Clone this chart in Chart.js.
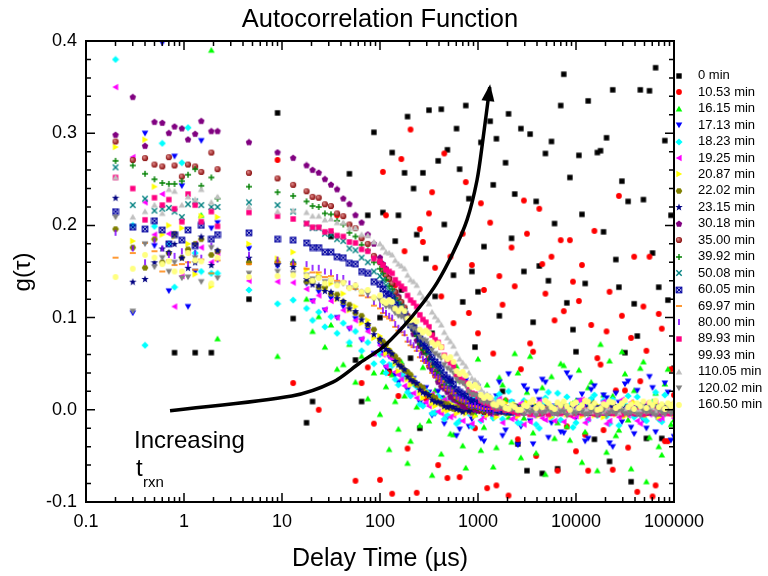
<!DOCTYPE html>
<html>
<head>
<meta charset="utf-8">
<title>Autocorrelation Function</title>
<script src="https://cdn.jsdelivr.net/npm/chart.js@4.4.1/dist/chart.umd.min.js"></script>
<style>
  html, body { margin: 0; padding: 0; background: #fff; }
  canvas { display: block; }
</style>
</head>
<body>
<canvas id="acf-chart" width="768" height="576"></canvas>
<script>
const FONT = '"Liberation Sans", Arial, Helvetica, sans-serif';

// correlator delay times in microseconds, shared by every run
const delayTimes = [
  0.2, 0.3, 0.4, 0.5, 0.6, 0.7, 0.8, 0.95, 1.1, 1.3, 1.5, 1.9, 2.2, 4.6, 9, 13,
  17.8, 20.5, 23.7, 27.4, 31.6, 36.5, 42.2, 48.7, 56.2, 64.9, 75, 86.6,
  100, 107, 115, 124, 133, 143, 154, 165, 178, 191, 205, 220, 237, 255, 274, 294,
  316, 340, 365, 392, 422, 453, 487, 523, 562, 604, 649, 698, 750, 806, 866, 931,
  1000, 1070, 1150, 1240, 1330, 1430, 1540, 1650, 1780, 1910, 2050, 2200, 2370, 2550, 2740, 2940,
  3160, 3400, 3650, 3920, 4220, 4530, 4870, 5230, 5620, 6040, 6490, 6980, 7500, 8060, 8660, 9310,
  10000, 10700, 11500, 12400, 13300, 14300, 15400, 16500, 17800, 19100, 20500, 22000, 23700, 25500, 27400, 29400,
  31600, 34000, 36500, 39200, 42200, 45300, 48700, 52300, 56200, 60400, 64900, 69800, 75000, 80600, 86600, 93100,
  100000
];

const runLabels = ['0 min', '10.53 min', '16.15 min', '17.13 min', '18.23 min', '19.25 min', '20.87 min',
  '22.02 min', '23.15 min', '30.18 min', '35.00 min', '39.92 min', '50.08 min', '60.05 min', '69.97 min',
  '80.00 min', '89.93 min', '99.93 min', '110.05 min', '120.02 min', '160.50 min'];

const runColors = ['#000000', '#ff0000', '#00ff00', '#0000ff', '#00ffff', '#ff00ff', '#ffff00',
  '#808000', '#000080', '#800080', '#800000', '#008000', '#008080', '#0000a0', '#ff8000',
  '#8000ff', '#ff0080', '#ffffff', '#c0c0c0', '#808080', '#ffff80'];

const runShapes = ['square', 'circle', 'triUp', 'triDown', 'diamond', 'triLeft', 'triRight',
  'hexagon', 'star', 'pentagon', 'sphere', 'plus', 'cross', 'boxX', 'dash',
  'bar', 'square', 'circle', 'triUp', 'triDown', 'circle'];

// g(tau) for each reaction time
const g0min = [
  null, null, null, null, null, null, 0.062, null, null, 0.062, null, 0.062, null, 0.12, 0.322, 0.099,
  -0.014, 0.009, null, null, 0.188, null, null, 0.256, 0.054, 0.009, 0.211, 0.301,
  0.100, 0.214, null, 0.042, 0.279, 0.183, 0.211, 0.130, 0.257, 0.318, 0.056, 0.240, 0.190, -0.020, 0.257, 0.164,
  0.325, 0.083, 0.123, 0.270, 0.326, 0.201, 0.282, 0.031, 0.146, 0.305, 0.261, 0.117, 0.330, 0.229, 0.150, 0.068,
  0.128, 0.290, 0.177, 0.007, 0.313, 0.244, 0.294, 0.102, 0.020, 0.268, 0.321, 0.186, 0.234, -0.037, 0.305, 0.150,
  -0.066, 0.299, 0.095, 0.226, 0.156, -0.069, 0.278, 0.140, 0.291, 0.202, -0.064, 0.330, 0.364, 0.116, 0.252, 0.087,
  0.063, 0.276, 0.212, 0.137, 0.335, 0.010, -0.032, 0.279, 0.281, 0.193, 0.295, -0.056, 0.347, 0.163, 0.133, 0.248,
  0.062, 0.226, -0.078, 0.115, 0.080, 0.347, 0.228, -0.031, 0.346, 0.170, 0.371, 0.133, -0.031, 0.292, 0.119, 0.211,
  0.045
];
const g1053 = [
  null, null, null, null, null, null, null, null, null, null, null, null, null, null, 0.271, 0.029,
  null, null, 0.000, null, null, 0.211, null, null, -0.077, 0.029, 0.046, -0.015,
  -0.076, 0.258, 0.211, 0.040, -0.091, 0.135, 0.015, 0.272, 0.172, -0.042, 0.304, 0.087, -0.090, 0.196, 0.182, 0.012,
  0.213, 0.236, 0.154, -0.060, 0.123, 0.278, -0.074, 0.166, 0.094, 0.038, -0.073, 0.191, 0.247, 0.105, 0.157, -0.020,
  0.083, 0.224, 0.130, -0.085, 0.203, 0.061, -0.082, 0.145, 0.114, 0.010, -0.093, 0.176, 0.134, -0.032, 0.044, 0.227,
  0.191, 0.072, 0.063, -0.050, 0.218, 0.158, 0.126, 0.004, 0.166, 0.097, -0.066, 0.184, 0.107, -0.018, 0.184, 0.139,
  -0.045, 0.118, 0.157, -0.027, -0.066, 0.092, 0.194, 0.056, 0.049, -0.022, 0.085, 0.128, -0.065, 0.021, 0.232, 0.102,
  0.021, -0.041, 0.078, 0.166, -0.089, 0.031, 0.112, 0.064, 0.166, -0.094, -0.082, 0.104, 0.088, -0.034, -0.034, 0.044,
  0.016
];
const g1615 = [
  null, null, null, null, null, null, null, null, null, null, 0.211, 0.390, 0.077, null, 0.058, 0.161,
  0.120, 0.085, 0.101, 0.068, 0.092, 0.044, 0.049, 0.071, 0.030, 0.058, 0.012, 0.040,
  -0.005, 0.041, 0.025, -0.043, 0.038, 0.009, -0.021, 0.052, 0.015, -0.058, -0.034, 0.030, 0.003, -0.017, 0.046, 0.064,
  -0.012, -0.071, 0.021, 0.034, -0.048, 0.013, 0.008, -0.026, -0.027, 0.047, 0.032, -0.039, -0.063, 0.019, 0.012, -0.005,
  0.055, -0.044, -0.019, 0.027, 0.004, -0.062, -0.041, 0.035, 0.027, 0.011, -0.008, -0.035, 0.061, 0.040, -0.052, -0.009,
  0.019, 0.058, -0.025, -0.047, 0.006, 0.024, -0.070, 0.002, 0.036, -0.031, -0.014, 0.050, 0.048, -0.018, -0.033, 0.007,
  0.010, 0.043, -0.057, -0.024, 0.024, 0.030, -0.003, -0.066, 0.071, 0.016, -0.046, 0.053, 0.015, -0.028, -0.022, 0.063,
  0.039, -0.011, -0.064, 0.021, 0.003, 0.045, 0.052, -0.078, -0.030, 0.009, 0.018, -0.040, -0.049, 0.028, 0.044, -0.016,
  -0.011
];
const g1713 = [
  null, 0.105, 0.300, 0.178, 0.398, 0.129, 0.275, 0.243, 0.112, 0.150, 0.292, 0.197, 0.203, 0.175, 0.156, 0.158,
  0.137, 0.118, 0.128, 0.108, 0.121, 0.100, 0.112, 0.088, 0.099, 0.076, 0.087, 0.061,
  0.071, 0.062, 0.046, 0.058, 0.056, 0.038, 0.030, 0.047, 0.041, 0.022, 0.016, 0.034, 0.028, 0.008, 0.005, 0.024,
  0.019, -0.006, -0.004, 0.020, 0.013, -0.015, -0.008, 0.024, 0.018, -0.028, -0.021, 0.012, 0.032, -0.018, -0.010, 0.027,
  0.025, -0.031, -0.034, 0.014, 0.006, -0.009, 0.015, 0.030, -0.028, -0.022, 0.039, 0.008, -0.005, -0.038, -0.018, 0.026,
  0.022, -0.012, -0.037, 0.020, 0.011, 0.033, 0.030, -0.030, -0.014, 0.004, 0.003, -0.024, -0.025, 0.040, 0.035, -0.006,
  -0.008, 0.010, 0.017, -0.034, -0.031, 0.022, 0.026, 0.000, -0.002, 0.016, 0.013, -0.036, -0.040, 0.018, 0.008, -0.013,
  0.028, 0.031, -0.019, -0.026, 0.021, 0.005, -0.011, -0.020, 0.036, 0.024, -0.024, -0.010, 0.004, 0.029, 0.019, -0.033,
  -0.029
];
const g1823 = [
  0.380, 0.200, 0.070, 0.199, 0.289, 0.180, 0.133, 0.268, 0.306, 0.170, 0.150, 0.148, 0.148, 0.130, 0.115, 0.119,
  0.110, 0.097, 0.106, 0.090, 0.101, 0.083, 0.094, 0.073, 0.085, 0.064, 0.073, 0.050,
  0.060, 0.052, 0.040, 0.049, 0.048, 0.033, 0.027, 0.038, 0.036, 0.019, 0.015, 0.028, 0.025, 0.006, 0.004, 0.020,
  0.017, -0.004, -0.003, 0.015, 0.011, -0.010, -0.006, 0.012, 0.010, -0.015, -0.012, 0.008, 0.004, -0.004, -0.018, 0.013,
  0.015, -0.012, -0.006, 0.005, 0.002, -0.009, 0.012, 0.017, -0.010, -0.004, 0.020, 0.009, -0.004, -0.014, -0.015, 0.010,
  0.007, -0.002, 0.000, -0.016, -0.020, 0.006, 0.013, 0.019, -0.008, 0.003, 0.018, -0.011, -0.002, 0.014, 0.005, -0.019,
  -0.014, 0.008, 0.009, -0.003, -0.011, 0.012, 0.016, -0.006, 0.003, 0.010, -0.007, -0.015, 0.011, 0.001, -0.017, -0.006,
  0.006, 0.015, -0.003, -0.008, 0.014, 0.004, -0.009, -0.012, 0.001, 0.007, 0.019, -0.010, -0.013, 0.016, 0.004, -0.001,
  -0.006
];
const g1925 = [
  0.350, 0.274, 0.225, 0.190, 0.234, 0.191, 0.112, 0.145, 0.171, 0.180, 0.176, 0.160, 0.170, 0.140, 0.139, 0.138,
  0.131, 0.118, 0.124, 0.109, 0.118, 0.100, 0.108, 0.089, 0.097, 0.077, 0.085, 0.061,
  0.070, 0.060, 0.047, 0.058, 0.055, 0.041, 0.038, 0.033, 0.026, 0.037, 0.031, 0.018, 0.013, 0.024, 0.021, 0.008,
  0.004, 0.017, 0.013, -0.002, -0.004, 0.011, 0.009, -0.008, -0.006, 0.008, 0.006, -0.012, 0.006, -0.003, -0.015, 0.010,
  0.003, -0.011, -0.008, 0.007, 0.010, -0.006, -0.004, 0.012, -0.014, -0.001, 0.002, -0.010, -0.009, 0.004, 0.007, -0.016,
  0.000, -0.013, -0.006, 0.005, 0.009, -0.009, -0.011, 0.001, -0.002, -0.012, 0.005, 0.006, -0.013, -0.004, 0.001, -0.008,
  -0.007, 0.010, 0.011, -0.014, -0.010, 0.002, -0.003, -0.005, 0.004, 0.009, -0.015, -0.012, 0.006, 0.000, -0.008, 0.011,
  -0.001, -0.006, 0.008, 0.003, -0.012, -0.015, 0.002, 0.007, -0.005, 0.004, 0.007, -0.010, -0.009, 0.001, -0.004, 0.006,
  -0.009
];
const g2087 = [
  0.285, 0.183, 0.293, 0.242, 0.190, 0.200, 0.188, 0.197, 0.180, 0.147, 0.210, 0.134, 0.209, 0.180, 0.164, 0.171,
  0.152, 0.140, 0.146, 0.131, 0.137, 0.120, 0.126, 0.108, 0.112, 0.094, 0.097, 0.078,
  0.080, 0.073, 0.061, 0.066, 0.062, 0.050, 0.042, 0.049, 0.044, 0.033, 0.027, 0.034, 0.029, 0.018, 0.013, 0.020,
  0.016, 0.007, 0.004, 0.011, 0.009, 0.000, -0.001, 0.007, 0.005, -0.004, -0.002, 0.006, -0.004, 0.002, 0.002, -0.007,
  0.008, -0.002, 0.003, -0.006, 0.005, 0.000, -0.008, 0.004, -0.003, 0.007, -0.005, 0.001, 0.006, -0.007, 0.002, -0.001,
  0.008, -0.004, 0.000, 0.005, -0.006, 0.003, -0.002, 0.007, -0.008, 0.001, 0.004, -0.003, 0.006, -0.005, 0.002, 0.006,
  -0.004, 0.002, -0.007, 0.008, -0.002, 0.003, -0.006, 0.005, 0.000, -0.008, 0.004, -0.003, 0.007, -0.005, 0.001, 0.006,
  -0.007, 0.002, -0.001, 0.008, -0.004, 0.000, 0.005, -0.006, 0.003, -0.002, 0.007, -0.008, 0.001, 0.004, -0.003, 0.006,
  -0.005
];
const g2202 = [
  0.196, 0.176, 0.154, 0.185, 0.160, 0.170, 0.191, 0.165, 0.174, 0.180, 0.185, 0.168, 0.172, 0.160, 0.160, 0.158,
  0.139, 0.139, 0.133, 0.133, 0.126, 0.125, 0.117, 0.114, 0.105, 0.102, 0.092, 0.087,
  0.076, 0.074, 0.071, 0.064, 0.060, 0.058, 0.054, 0.047, 0.043, 0.041, 0.038, 0.031, 0.027, 0.026, 0.024, 0.018,
  0.015, 0.015, 0.013, 0.008, 0.006, 0.007, 0.006, 0.002, 0.001, 0.003, 0.002, -0.001, 0.000, 0.001, -0.003, 0.000,
  0.002, -0.001, 0.000, 0.003, -0.002, 0.001, -0.001, 0.000, 0.002, -0.003, 0.001, 0.000, -0.002, 0.002, 0.001, -0.001,
  0.000, 0.002, -0.002, 0.001, -0.003, 0.000, 0.001, 0.002, -0.001, 0.000, -0.002, 0.003, -0.001, 0.001, 0.000, -0.002,
  -0.001, 0.002, -0.002, 0.001, -0.003, 0.000, 0.003, -0.001, -0.002, 0.002, 0.000, -0.003, 0.001, 0.002, -0.001, 0.000,
  -0.002, 0.003, -0.001, 0.001, -0.002, 0.000, 0.002, -0.003, 0.001, 0.000, -0.001, 0.002, -0.002, 0.001, 0.000, -0.001,
  0.000
];
const g2315 = [
  0.230, 0.139, 0.142, 0.160, 0.175, 0.171, 0.180, 0.165, 0.154, 0.160, 0.188, 0.157, 0.173, 0.165, 0.158, 0.155,
  0.142, 0.136, 0.135, 0.129, 0.128, 0.121, 0.118, 0.110, 0.107, 0.098, 0.093, 0.082,
  0.077, 0.070, 0.066, 0.064, 0.061, 0.053, 0.049, 0.047, 0.044, 0.036, 0.033, 0.031, 0.029, 0.022, 0.019, 0.018,
  0.016, 0.011, 0.009, 0.009, 0.008, 0.004, 0.003, 0.004, 0.003, 0.001, 0.000, -0.002, 0.001, -0.001, 0.000, 0.002,
  -0.001, 0.002, -0.002, 0.001, -0.003, 0.000, 0.003, -0.001, -0.002, 0.002, 0.000, -0.003, 0.001, 0.002, -0.001, 0.000,
  -0.002, 0.003, -0.001, 0.001, -0.002, 0.000, 0.002, -0.003, 0.001, 0.000, -0.001, 0.002, -0.002, 0.001, 0.000, -0.001,
  0.000, -0.002, 0.001, 0.002, -0.001, -0.003, 0.001, 0.000, 0.002, -0.002, 0.000, 0.001, -0.001, 0.003, -0.002, 0.000,
  0.001, -0.001, 0.002, 0.000, -0.003, 0.001, 0.000, 0.002, -0.001, -0.002, 0.001, 0.000, 0.002, -0.001, 0.003, -0.002,
  -0.001
];
const g3018 = [
  0.298, 0.339, 0.286, 0.312, 0.311, 0.300, 0.307, 0.305, 0.293, 0.299, 0.313, 0.302, 0.302, 0.290, 0.279, 0.273,
  0.265, 0.260, 0.257, 0.250, 0.244, 0.239, 0.229, 0.223, 0.211, 0.203, 0.190, 0.180,
  0.165, 0.158, 0.153, 0.143, 0.136, 0.128, 0.123, 0.113, 0.105, 0.099, 0.092, 0.082, 0.075, 0.069, 0.062, 0.053,
  0.047, 0.043, 0.037, 0.030, 0.025, 0.023, 0.019, 0.014, 0.011, 0.010, 0.008, 0.004, 0.003, 0.004, 0.003, 0.000,
  -0.001, 0.002, -0.002, 0.001, -0.003, 0.000, 0.003, -0.001, -0.002, 0.002, 0.000, -0.003, 0.001, 0.002, -0.001, 0.000,
  -0.002, 0.003, -0.001, 0.001, -0.002, 0.000, 0.002, -0.003, 0.001, 0.000, -0.001, 0.002, -0.002, 0.001, 0.000, -0.001,
  0.002, -0.001, 0.000, 0.003, -0.002, 0.001, -0.001, 0.000, 0.002, -0.003, 0.001, 0.000, -0.002, 0.002, 0.001, -0.001,
  0.000, 0.002, -0.002, 0.001, -0.003, 0.000, 0.001, 0.002, -0.001, 0.000, -0.002, 0.003, -0.001, 0.001, 0.000, -0.002,
  0.001
];
const g3500 = [
  0.291, 0.271, 0.273, 0.266, 0.264, 0.274, 0.265, 0.253, 0.266, 0.264, 0.258, 0.279, 0.261, 0.257, 0.251, 0.244,
  0.237, 0.231, 0.230, 0.223, 0.221, 0.213, 0.210, 0.201, 0.197, 0.186, 0.180, 0.167,
  0.160, 0.152, 0.146, 0.142, 0.137, 0.128, 0.121, 0.117, 0.111, 0.102, 0.095, 0.091, 0.084, 0.074, 0.067, 0.064,
  0.058, 0.049, 0.043, 0.040, 0.035, 0.028, 0.023, 0.022, 0.019, 0.013, 0.010, 0.009, 0.008, 0.004, 0.003, 0.003,
  0.002, 0.000, -0.002, 0.001, 0.002, -0.001, -0.003, 0.001, 0.000, 0.002, -0.002, 0.000, 0.001, -0.001, 0.003, -0.002,
  0.000, 0.001, -0.001, 0.002, 0.000, -0.003, 0.001, 0.000, 0.002, -0.001, -0.002, 0.001, 0.000, 0.002, -0.001, 0.003,
  -0.001, 0.002, -0.002, 0.001, -0.003, 0.000, 0.003, -0.001, -0.002, 0.002, 0.000, -0.003, 0.001, 0.002, -0.001, 0.000,
  -0.002, 0.003, -0.001, 0.001, -0.002, 0.000, 0.002, -0.003, 0.001, 0.000, -0.001, 0.002, -0.002, 0.001, 0.000, -0.001,
  0.000
];
const g3992 = [
  0.270, 0.265, 0.256, 0.250, 0.246, 0.245, 0.245, 0.248, 0.255, 0.261, 0.243, 0.252, 0.229, 0.242, 0.236, 0.232,
  0.226, 0.221, 0.220, 0.213, 0.212, 0.205, 0.201, 0.192, 0.188, 0.179, 0.173, 0.160,
  0.153, 0.148, 0.141, 0.134, 0.131, 0.121, 0.116, 0.112, 0.106, 0.096, 0.090, 0.086, 0.080, 0.071, 0.065, 0.061,
  0.055, 0.047, 0.041, 0.039, 0.034, 0.027, 0.023, 0.021, 0.018, 0.012, 0.010, 0.010, 0.008, 0.004, 0.003, 0.004,
  0.002, 0.002, -0.001, 0.000, 0.003, -0.002, 0.001, -0.001, 0.000, 0.002, -0.003, 0.001, 0.000, -0.002, 0.002, 0.001,
  -0.001, 0.000, 0.002, -0.002, 0.001, -0.003, 0.000, 0.001, 0.002, -0.001, 0.000, -0.002, 0.003, -0.001, 0.001, 0.000,
  0.000, -0.002, 0.001, 0.002, -0.001, -0.003, 0.001, 0.000, 0.002, -0.002, 0.000, 0.001, -0.001, 0.003, -0.002, 0.000,
  0.001, -0.001, 0.002, 0.000, -0.003, 0.001, 0.000, 0.002, -0.001, -0.002, 0.001, 0.000, 0.002, -0.001, 0.003, -0.002,
  0.001
];
const g5008 = [
  0.263, 0.222, 0.229, 0.216, 0.218, 0.219, 0.215, 0.209, 0.223, 0.226, 0.222, 0.220, 0.220, 0.225, 0.222, 0.215,
  0.202, 0.197, 0.197, 0.191, 0.190, 0.185, 0.183, 0.175, 0.173, 0.165, 0.160, 0.150,
  0.145, 0.141, 0.135, 0.129, 0.127, 0.119, 0.115, 0.112, 0.107, 0.099, 0.094, 0.090, 0.084, 0.076, 0.071, 0.068,
  0.062, 0.054, 0.049, 0.046, 0.041, 0.034, 0.030, 0.028, 0.024, 0.018, 0.015, 0.014, 0.012, 0.008, 0.006, 0.006,
  0.004, 0.003, 0.002, 0.002, 0.001, 0.000, -0.002, 0.001, 0.002, -0.001, -0.003, 0.001, 0.000, 0.002, -0.002, 0.000,
  0.001, -0.001, 0.003, -0.002, 0.000, 0.001, -0.001, 0.002, 0.000, -0.003, 0.001, 0.000, 0.002, -0.001, -0.002, 0.001,
  0.002, -0.001, 0.000, 0.003, -0.002, 0.001, -0.001, 0.000, 0.002, -0.003, 0.001, 0.000, -0.002, 0.002, 0.001, -0.001,
  0.000, 0.002, -0.002, 0.001, -0.003, 0.000, 0.001, 0.002, -0.001, 0.000, -0.002, 0.003, -0.001, 0.001, 0.000, -0.002,
  -0.001
];
const g6005 = [
  0.215, 0.198, 0.196, 0.205, 0.195, 0.180, 0.190, 0.184, 0.195, 0.178, 0.200, 0.185, 0.190, 0.192, 0.185, 0.184,
  0.181, 0.176, 0.176, 0.171, 0.171, 0.166, 0.165, 0.159, 0.158, 0.150, 0.148, 0.139,
  0.136, 0.131, 0.126, 0.124, 0.121, 0.114, 0.110, 0.108, 0.104, 0.097, 0.092, 0.089, 0.085, 0.077, 0.072, 0.069,
  0.065, 0.057, 0.052, 0.049, 0.045, 0.038, 0.034, 0.032, 0.028, 0.022, 0.019, 0.017, 0.015, 0.011, 0.009, 0.008,
  0.006, 0.004, 0.003, 0.003, 0.002, 0.001, 0.001, -0.001, 0.002, 0.000, -0.002, 0.001, 0.003, -0.001, 0.000, -0.002,
  0.001, 0.002, -0.001, 0.000, -0.003, 0.001, 0.002, -0.001, 0.000, 0.001, -0.002, 0.000, 0.003, -0.001, 0.001, -0.002,
  0.000, 0.002, -0.001, 0.001, -0.002, 0.000, 0.002, -0.003, 0.001, 0.000, -0.001, 0.002, -0.002, 0.001, 0.000, -0.001,
  -0.001, 0.002, -0.002, 0.001, -0.003, 0.000, 0.003, -0.001, -0.002, 0.002, 0.000, -0.003, 0.001, 0.002, -0.001, 0.000,
  0.000
];
const g6997 = [
  0.165, 0.170, 0.181, 0.172, 0.150, 0.162, 0.157, 0.158, 0.160, 0.152, 0.163, 0.148, 0.162, 0.158, 0.160, 0.158,
  0.153, 0.149, 0.149, 0.144, 0.145, 0.140, 0.139, 0.132, 0.131, 0.124, 0.122, 0.113,
  0.110, 0.105, 0.101, 0.099, 0.097, 0.090, 0.086, 0.084, 0.081, 0.074, 0.070, 0.068, 0.064, 0.057, 0.053, 0.051,
  0.047, 0.040, 0.036, 0.034, 0.031, 0.025, 0.022, 0.021, 0.018, 0.013, 0.011, 0.010, 0.009, 0.005, 0.004, 0.004,
  0.003, 0.002, 0.001, 0.001, 0.001, 0.001, -0.001, 0.002, 0.000, -0.002, 0.001, 0.000, -0.003, 0.002, 0.001, -0.001,
  0.000, 0.002, -0.002, 0.001, 0.000, -0.001, 0.003, -0.002, 0.000, 0.001, -0.001, 0.002, 0.000, -0.002, 0.001, 0.000,
  0.000, -0.002, 0.001, 0.002, -0.001, -0.003, 0.001, 0.000, 0.002, -0.002, 0.000, 0.001, -0.001, 0.003, -0.002, 0.000,
  0.001, -0.001, 0.002, 0.000, -0.003, 0.001, 0.000, 0.002, -0.001, -0.002, 0.001, 0.000, 0.002, -0.001, 0.003, -0.002,
  0.002
];
const g8000 = [
  0.192, 0.175, 0.160, 0.183, 0.175, 0.168, 0.167, 0.172, 0.158, 0.170, 0.165, 0.178, 0.163, 0.168, 0.163, 0.160,
  0.158, 0.154, 0.154, 0.150, 0.149, 0.144, 0.143, 0.137, 0.135, 0.128, 0.125, 0.117,
  0.114, 0.108, 0.105, 0.102, 0.100, 0.093, 0.089, 0.087, 0.083, 0.076, 0.073, 0.070, 0.066, 0.059, 0.055, 0.053,
  0.049, 0.042, 0.038, 0.036, 0.032, 0.026, 0.023, 0.022, 0.019, 0.014, 0.012, 0.011, 0.009, 0.005, 0.004, 0.005,
  0.003, 0.002, 0.001, 0.000, 0.001, -0.002, 0.001, 0.000, 0.002, -0.001, 0.000, 0.003, -0.002, 0.000, 0.001, -0.001,
  0.002, 0.000, -0.003, 0.001, 0.000, 0.002, -0.001, 0.001, -0.002, 0.000, 0.003, -0.001, 0.000, 0.001, -0.002, 0.002,
  0.002, -0.001, 0.000, 0.003, -0.002, 0.001, -0.001, 0.000, 0.002, -0.003, 0.001, 0.000, -0.002, 0.002, 0.001, -0.001,
  0.000, 0.002, -0.002, 0.001, -0.003, 0.000, 0.001, 0.002, -0.001, 0.000, -0.002, 0.003, -0.001, 0.001, 0.000, -0.002,
  0.001
];
const g8993 = [
  0.252, 0.240, 0.206, 0.230, 0.222, 0.228, 0.218, 0.204, 0.234, 0.222, 0.204, 0.215, 0.199, 0.214, 0.210, 0.207,
  0.202, 0.198, 0.198, 0.193, 0.194, 0.189, 0.188, 0.182, 0.181, 0.174, 0.172, 0.164,
  0.161, 0.157, 0.152, 0.150, 0.148, 0.141, 0.137, 0.134, 0.131, 0.124, 0.119, 0.116, 0.112, 0.103, 0.098, 0.095,
  0.090, 0.081, 0.076, 0.073, 0.068, 0.059, 0.054, 0.051, 0.047, 0.039, 0.034, 0.032, 0.029, 0.022, 0.018, 0.017,
  0.015, 0.010, 0.008, 0.007, 0.006, 0.003, 0.002, 0.002, 0.002, 0.000, 0.000, -0.001, -0.002, -0.004, 0.000, -0.003,
  -0.001, -0.005, -0.002, 0.000, -0.004, -0.003, -0.001, -0.005, -0.002, -0.003, 0.000, -0.004, -0.002, -0.001, -0.005, -0.003,
  -0.002, 0.000, -0.004, -0.001, -0.003, -0.002, -0.004, -0.005, -0.001, -0.003, 0.000, -0.002, -0.004, -0.003, -0.001, -0.005,
  -0.002, -0.003, 0.000, -0.004, -0.002, -0.001, -0.005, -0.003, -0.002, 0.000, -0.004, -0.001, -0.003, -0.002, -0.004, -0.003,
  -0.004
];
const g9993 = [];
const g11005 = [
  0.252, 0.209, 0.215, 0.222, 0.213, 0.239, 0.237, 0.222, 0.231, 0.228, 0.239, 0.225, 0.231, 0.220, 0.215, 0.216,
  0.214, 0.210, 0.210, 0.206, 0.207, 0.203, 0.203, 0.197, 0.197, 0.190, 0.189, 0.182,
  0.180, 0.176, 0.171, 0.170, 0.168, 0.162, 0.158, 0.156, 0.153, 0.146, 0.141, 0.139, 0.135, 0.127, 0.122, 0.119,
  0.115, 0.106, 0.101, 0.097, 0.092, 0.084, 0.078, 0.074, 0.069, 0.061, 0.055, 0.051, 0.047, 0.040, 0.034, 0.032,
  0.029, 0.022, 0.018, 0.017, 0.015, 0.010, 0.008, 0.008, 0.006, 0.003, 0.002, 0.003, 0.002, 0.000, 0.000, 0.001,
  -0.002, 0.002, 0.000, -0.003, 0.001, 0.002, -0.001, 0.000, 0.003, -0.002, 0.001, 0.000, -0.001, 0.002, -0.003, 0.001,
  0.000, 0.002, -0.001, 0.000, 0.001, -0.002, 0.002, 0.000, 0.003, -0.002, 0.001, 0.000, -0.001, 0.002, -0.003, 0.001,
  0.000, 0.002, -0.001, 0.001, -0.002, 0.000, 0.003, -0.001, 0.000, 0.002, -0.002, 0.001, -0.001, 0.000, 0.002, -0.001,
  0.000
];
const g12002 = [
  0.209, 0.107, 0.180, 0.155, 0.165, 0.150, 0.160, 0.143, 0.144, 0.165, 0.139, 0.176, 0.143, 0.148, 0.150, 0.148,
  0.146, 0.142, 0.143, 0.139, 0.140, 0.136, 0.137, 0.132, 0.132, 0.127, 0.126, 0.120,
  0.119, 0.116, 0.112, 0.112, 0.110, 0.105, 0.102, 0.101, 0.099, 0.093, 0.090, 0.088, 0.086, 0.079, 0.076, 0.075,
  0.072, 0.065, 0.061, 0.059, 0.056, 0.049, 0.045, 0.043, 0.040, 0.033, 0.030, 0.029, 0.026, 0.020, 0.017, 0.016,
  0.015, 0.010, 0.008, 0.008, 0.007, 0.003, 0.002, 0.002, 0.002, 0.000, 0.000, 0.000, 0.000, -0.002, -0.002, -0.005,
  0.000, -0.003, -0.001, -0.006, -0.001, -0.004, -0.002, 0.001, -0.003, -0.004, -0.005, -0.002, -0.002, -0.006, 0.000, -0.003,
  -0.004, -0.001, -0.002, -0.005, -0.005, -0.002, -0.001, -0.006, -0.003, 0.000, -0.006, -0.003, -0.002, -0.004, 0.000, -0.001,
  -0.004, -0.005, -0.003, -0.002, -0.005, -0.006, -0.001, -0.003, -0.002, -0.004, -0.006, 0.000, -0.003, -0.005, -0.001, -0.004,
  -0.004
];
const g16050 = [
  0.144, 0.153, 0.168, 0.165, 0.158, 0.161, 0.150, 0.150, 0.170, 0.162, 0.161, 0.137, 0.165, 0.144, 0.145, 0.146,
  0.145, 0.140, 0.143, 0.137, 0.141, 0.135, 0.138, 0.132, 0.135, 0.128, 0.130, 0.122,
  0.124, 0.118, 0.116, 0.119, 0.117, 0.110, 0.107, 0.110, 0.107, 0.099, 0.097, 0.098, 0.096, 0.087, 0.084, 0.086,
  0.083, 0.073, 0.070, 0.072, 0.068, 0.058, 0.055, 0.057, 0.052, 0.042, 0.039, 0.041, 0.037, 0.028, 0.025, 0.027,
  0.024, 0.016, 0.013, 0.015, 0.013, 0.006, 0.005, 0.009, 0.007, 0.002, 0.001, 0.005, 0.003, 0.000, 0.000, 0.005,
  0.004, 0.008, 0.011, 0.002, 0.006, 0.003, 0.010, 0.007, 0.003, 0.001, 0.008, 0.005, 0.009, 0.004, 0.000, 0.006,
  0.008, 0.002, 0.005, 0.010, 0.009, 0.003, 0.007, 0.000, 0.001, 0.006, 0.005, 0.009, 0.008, 0.002, 0.004, 0.007,
  0.010, 0.003, 0.006, 0.001, 0.007, 0.004, 0.009, 0.002, 0.008, 0.005, 0.010, 0.003, 0.006, 0.001, 0.007, 0.004,
  0.007
];

const runValues = [g0min, g1053, g1615, g1713, g1823, g1925, g2087, g2202, g2315, g3018, g3500,
  g3992, g5008, g6005, g6997, g8000, g8993, g9993, g11005, g12002, g16050];

const xTickValues = [0.1, 1, 10, 100, 1000, 10000, 100000];
const xTickLabels = ['0.1', '1', '10', '100', '1000', '10000', '100000'];
const yTickValues = [-0.1, 0.0, 0.1, 0.2, 0.3, 0.4];
const yTickLabels = ['-0.1', '0.0', '0.1', '0.2', '0.3', '0.4'];

// guide arrow "increasing t_rxn"
const arrowX = [0.72, 12.6, 33, 62.5, 107, 172, 257, 383, 555, 773, 977, 1122, 1318];
const arrowY = [-0.001, 0.015, 0.030, 0.051, 0.068, 0.090, 0.112, 0.138, 0.170, 0.206, 0.249, 0.293, 0.350];

// small bitmap symbols, used for the points and for the legend
function makeMarker(shape, color) {
  const c = document.createElement('canvas');
  c.width = 8;
  c.height = 8;
  const m = c.getContext('2d');
  m.fillStyle = color;
  m.strokeStyle = color;
  m.lineWidth = 1.4;
  const poly = pts => {
    m.beginPath();
    pts.forEach(([x, y], i) => (i ? m.lineTo(x, y) : m.moveTo(x, y)));
    m.closePath();
    m.fill();
  };
  const ngon = (n, r, rot) => {
    const pts = [];
    for (let i = 0; i < n; i++) {
      const a = rot + i * 2 * Math.PI / n;
      pts.push([4 + r * Math.cos(a), 4 + r * Math.sin(a)]);
    }
    poly(pts);
  };
  switch (shape) {
    case 'square': m.fillRect(1.3, 1.3, 5.4, 5.4); break;
    case 'circle': m.beginPath(); m.arc(4, 4, 2.9, 0, 2 * Math.PI); m.fill(); break;
    case 'triUp': poly([[4, 0.8], [7.3, 6.6], [0.7, 6.6]]); break;
    case 'triDown': poly([[4, 7.2], [7.3, 1.4], [0.7, 1.4]]); break;
    case 'triLeft': poly([[0.8, 4], [6.6, 0.7], [6.6, 7.3]]); break;
    case 'triRight': poly([[7.2, 4], [1.4, 0.7], [1.4, 7.3]]); break;
    case 'diamond': poly([[4, 0.4], [7.6, 4], [4, 7.6], [0.4, 4]]); break;
    case 'hexagon': ngon(6, 3.3, 0); break;
    case 'pentagon': ngon(5, 3.4, -Math.PI / 2); break;
    case 'star': {
      const pts = [];
      for (let i = 0; i < 10; i++) {
        const r = i % 2 ? 1.6 : 3.9;
        const a = -Math.PI / 2 + i * Math.PI / 5;
        pts.push([4 + r * Math.cos(a), 4.3 + r * Math.sin(a)]);
      }
      poly(pts);
      break;
    }
    case 'sphere': {
      const gr = m.createRadialGradient(3, 3, 0.3, 4, 4, 3.3);
      gr.addColorStop(0, '#e08a8a');
      gr.addColorStop(1, color);
      m.fillStyle = gr;
      m.beginPath(); m.arc(4, 4, 3.1, 0, 2 * Math.PI); m.fill();
      break;
    }
    case 'plus':
      m.beginPath(); m.moveTo(4, 1); m.lineTo(4, 7); m.moveTo(1, 4); m.lineTo(7, 4); m.stroke();
      break;
    case 'cross':
      m.beginPath(); m.moveTo(1.3, 1.3); m.lineTo(6.7, 6.7); m.moveTo(6.7, 1.3); m.lineTo(1.3, 6.7); m.stroke();
      break;
    case 'boxX':
      m.lineWidth = 1.1;
      m.strokeRect(1.2, 1.2, 5.6, 5.6);
      m.beginPath(); m.moveTo(1.5, 1.5); m.lineTo(6.5, 6.5); m.moveTo(6.5, 1.5); m.lineTo(1.5, 6.5); m.stroke();
      break;
    case 'dash':
      m.lineWidth = 1.6;
      m.beginPath(); m.moveTo(1, 4); m.lineTo(7, 4); m.stroke();
      break;
    case 'bar':
      m.lineWidth = 1.6;
      m.beginPath(); m.moveTo(4, 1); m.lineTo(4, 7); m.stroke();
      break;
  }
  return c;
}

const markers = runShapes.map((s, i) => makeMarker(s, runColors[i]));

const datasets = runValues.map((vals, i) => ({
  label: runLabels[i],
  data: vals.map((v, j) => ({ x: delayTimes[j], y: v })).filter(p => p.y !== null),
  pointStyle: markers[i],
  pointRadius: 3,
  showLine: false,
  order: runValues.length - i + 1
}));

datasets.push({
  label: 'arrow',
  data: arrowX.map((x, j) => ({ x: x, y: arrowY[j] })),
  showLine: true,
  borderColor: '#000',
  borderWidth: 3.5,
  pointRadius: 0,
  tension: 0.3,
  order: 0
});

const decorations = {
  id: 'decorations',
  afterDatasetsDraw(chart) {
    // arrow head at the end of the guide curve
    const ctx = chart.ctx;
    const pts = chart.getDatasetMeta(chart.data.datasets.length - 1).data;
    const a = pts[pts.length - 2], b = pts[pts.length - 1];
    const ang = Math.atan2(b.y - a.y, b.x - a.x);
    const ux = Math.cos(ang), uy = Math.sin(ang);
    const tx = b.x + ux * 3, ty = b.y + uy * 3;
    const L = 17, W = 6.5;
    ctx.save();
    ctx.fillStyle = '#000';
    ctx.beginPath();
    ctx.moveTo(tx, ty);
    ctx.lineTo(tx - ux * L - uy * W, ty - uy * L + ux * W);
    ctx.lineTo(tx - ux * L + uy * W, ty - uy * L - ux * W);
    ctx.closePath();
    ctx.fill();
    ctx.restore();
  },
  afterDraw(chart) {
    const { ctx, chartArea: area, scales: { x, y } } = chart;
    ctx.save();
    ctx.strokeStyle = '#000';
    ctx.fillStyle = '#000';

    // inward ticks on all four sides
    ctx.lineWidth = 1.5;
    ctx.beginPath();
    for (let e = -1; e <= 5; e++) {
      for (let k = 1; k <= 9; k++) {
        if (e === 5 && k > 1) break;
        const px = x.getPixelForValue(k * Math.pow(10, e));
        const len = k === 1 ? 9 : 5;
        ctx.moveTo(px, area.bottom); ctx.lineTo(px, area.bottom - len);
        ctx.moveTo(px, area.top); ctx.lineTo(px, area.top + len);
      }
    }
    for (let i = 0; i <= 25; i++) {
      const py = y.getPixelForValue(-0.1 + i * 0.02);
      const len = i % 5 === 0 ? 9 : 5;
      ctx.moveTo(area.left, py); ctx.lineTo(area.left + len, py);
      ctx.moveTo(area.right, py); ctx.lineTo(area.right - len, py);
    }
    ctx.stroke();

    ctx.lineWidth = 2;
    ctx.strokeRect(area.left, area.top, area.right - area.left, area.bottom - area.top);

    // tick labels
    ctx.font = '18px ' + FONT;
    ctx.textAlign = 'center';
    ctx.textBaseline = 'middle';
    xTickValues.forEach((v, i) => ctx.fillText(xTickLabels[i], x.getPixelForValue(v), 522));
    ctx.textAlign = 'right';
    yTickValues.forEach((v, i) => ctx.fillText(yTickLabels[i], 77, y.getPixelForValue(v)));

    // titles
    const midX = (area.left + area.right) / 2;
    ctx.textAlign = 'center';
    ctx.font = '25.5px ' + FONT;
    ctx.fillText('Autocorrelation Function', midX, 20);
    ctx.font = '25px ' + FONT;
    ctx.fillText('Delay Time (\u00b5s)', midX, 559);
    ctx.font = '24px ' + FONT;
    ctx.save();
    ctx.translate(23, 272);
    ctx.rotate(-Math.PI / 2);
    ctx.fillText('g(\u03c4)', 0, 0);
    ctx.restore();

    // annotation next to the arrow
    ctx.textAlign = 'left';
    ctx.textBaseline = 'alphabetic';
    ctx.fillText('Increasing', 134, 448);
    ctx.fillText('t', 136, 476);
    ctx.font = '15px ' + FONT;
    ctx.fillText('rxn', 143, 487);

    // legend
    ctx.font = '13px ' + FONT;
    ctx.textBaseline = 'middle';
    runLabels.forEach((lab, i) => {
      const ly = 75.7 + i * 16.45;
      ctx.drawImage(markers[i], 675, Math.round(ly) - 4);
      ctx.fillText(lab, 698, ly);
    });
    ctx.restore();
  }
};

new Chart(document.getElementById('acf-chart').getContext('2d'), {
  type: 'scatter',
  data: { datasets: datasets },
  options: {
    responsive: false,
    animation: false,
    devicePixelRatio: 1,
    layout: { padding: { left: 86, right: 94, top: 41, bottom: 74 } },
    scales: {
      x: { type: 'logarithmic', min: 0.1, max: 100000, display: false },
      y: { type: 'linear', min: -0.1, max: 0.4, display: false }
    },
    plugins: {
      legend: { display: false },
      tooltip: { enabled: false }
    }
  },
  plugins: [decorations]
});
</script>
</body>
</html>
